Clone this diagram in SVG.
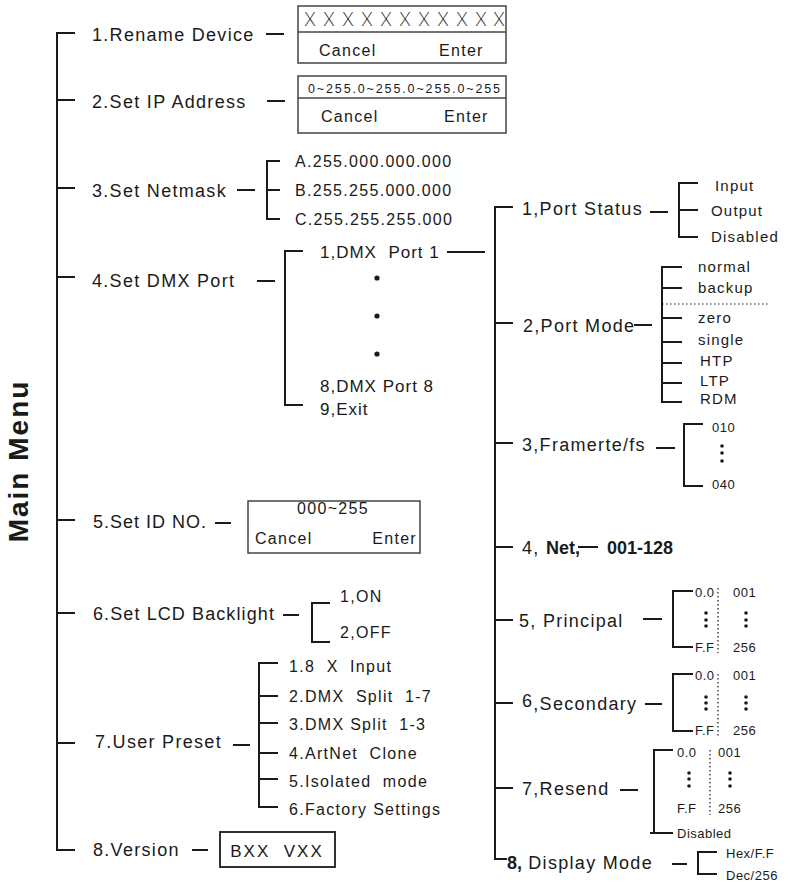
<svg xmlns="http://www.w3.org/2000/svg" width="786" height="885" viewBox="0 0 786 885">
<style>
text{font-family:"Liberation Sans",Arial,sans-serif;fill:#1a1a1a}
.m{font-size:18px;letter-spacing:1.3px}
.s{font-size:18px;letter-spacing:1.3px}
.n{font-size:16px;letter-spacing:1.3px}
.d{font-size:17px;letter-spacing:1px}
.i{font-size:15px;letter-spacing:1.2px}
.t{font-size:13px;letter-spacing:0.5px}
.b{font-weight:bold}
.ln{stroke:#1a1a1a;stroke-width:2;fill:none}
.bx{stroke:#444;stroke-width:1.5;fill:#fff}
.dt{stroke:#1a1a1a;stroke-width:1.2;stroke-dasharray:1.5 2.5;fill:none}
.dot{fill:#1a1a1a}
</style>
<g id="title"><text transform="translate(28,461) rotate(-90)" text-anchor="middle" class="b" style="font-size:28px;letter-spacing:2px">Main Menu</text></g>
<g id="connectors" class="ln">
<path d="M75 33H57V850H75M57 100H75M57 188H75M57 277H75M57 520H75M57 613H75M57 743H75"/>
<path d="M266 34H284M267 101H285M237 190H255M257 281H275M215 523H231M283 615H299M233 745H250M192 850H208"/>
<path d="M280 161H267V219H280M267 190H280"/>
<path d="M303 251H285V405H303"/>
<path d="M447 252H485"/>
<path d="M513 207H495V859H507M495 323H513M495 443H513M495 547H513M495 620H513M495 703H513M495 788H513"/>
<path d="M650 212H668M698 183H679V237H698M679 210H698"/>
<path d="M634 325H652M682 267H662V402H682M662 288H682M662 318H682M662 342H682M662 363H682M662 383H682"/>
<path d="M656 448H675M703 424H684V486H703"/>
<path d="M578 547H598"/>
<path d="M643 619H662M693 591H673V647H693"/>
<path d="M645 704H662M693 674H673V731H693"/>
<path d="M620 790H638M673 750H654V833H673M650 833H654"/>
<path d="M672 864H687M717 852H698V874H717"/>
<path d="M330 603H312V642H330"/>
<path d="M278 663H259V807H278M259 696H278M259 723H278M259 753H278M259 779H278"/>
</g>
<g id="dotted">
<path class="dt" d="M662 304H768"/>
<path class="dt" d="M718 588V653M718 674V737M710 750V815"/>
</g>
<g id="n1"><text x="92" y="41" class="m">1.Rename Device</text>
<rect class="bx" x="298" y="6" width="208" height="57"/><path d="M298 32H506" stroke="#444" stroke-width="1.3"/>
<text x="310" y="26" text-anchor="middle" style="font-family:Inter,'Liberation Sans',sans-serif;font-weight:200;font-size:18px"><tspan x="310">X</tspan><tspan x="329">X</tspan><tspan x="348">X</tspan><tspan x="367">X</tspan><tspan x="386">X</tspan><tspan x="405">X</tspan><tspan x="424">X</tspan><tspan x="443">X</tspan><tspan x="462">X</tspan><tspan x="481">X</tspan><tspan x="499">X</tspan></text>
<text x="319" y="56" class="n">Cancel</text><text x="439" y="56" class="n">Enter</text></g>
<g id="n2"><text x="92" y="108" class="m">2.Set IP Address</text>
<rect class="bx" x="298" y="76" width="208" height="57"/><path d="M298 98H506" stroke="#444" stroke-width="1.3"/>
<text x="308" y="93" style="font-size:12.5px" textLength="192" lengthAdjust="spacing">0~255.0~255.0~255.0~255</text>
<text x="321" y="122" class="n">Cancel</text><text x="444" y="122" class="n">Enter</text></g>
<g id="n3"><text x="92" y="197" class="m">3.Set Netmask</text>
<text x="295" y="167" class="n">A.255.000.000.000</text>
<text x="295" y="196" class="n">B.255.255.000.000</text>
<text x="295" y="225" class="n">C.255.255.255.000</text></g>
<g id="n4"><text x="92" y="287" class="m">4.Set DMX Port</text>
<text x="320" y="258" class="d" xml:space="preserve">1,DMX  Port 1</text>
<circle class="dot" cx="377" cy="278" r="2.6"/><circle class="dot" cx="377" cy="316" r="2.6"/><circle class="dot" cx="377" cy="354" r="2.6"/>
<text x="320" y="392" class="d">8,DMX Port 8</text>
<text x="320" y="415" class="d">9,Exit</text></g>
<g id="p1"><text x="522" y="215" class="s">1,Port Status</text>
<text x="715" y="191" class="i">Input</text><text x="711" y="216" class="i">Output</text><text x="711" y="242" class="i">Disabled</text></g>
<g id="p2"><text x="523" y="332" class="s">2,Port Mode</text>
<text x="698" y="272" class="i">normal</text><text x="698" y="293" class="i">backup</text><text x="698" y="323" class="i">zero</text><text x="698" y="345" class="i">single</text><text x="700" y="366" class="i">HTP</text><text x="700" y="386" class="i">LTP</text><text x="700" y="404" class="i">RDM</text></g>
<g id="p3"><text x="522" y="451" class="s">3,Framerte/fs</text>
<text x="712" y="432" class="t">010</text>
<circle class="dot" cx="722" cy="446" r="1.8"/><circle class="dot" cx="722" cy="453" r="1.8"/><circle class="dot" cx="722" cy="461" r="1.8"/>
<text x="712" y="489" class="t">040</text></g>
<g id="p4"><text x="522" y="554" class="s">4, <tspan class="b" style="letter-spacing:0">Net,</tspan></text>
<text x="607" y="554" class="b" style="font-size:18px">001-128</text></g>
<g id="p5"><text x="519" y="627" class="s">5, Principal</text>
<text x="695" y="597" class="t">0.0</text><text x="733" y="597" class="t">001</text>
<circle class="dot" cx="706" cy="613" r="1.8"/><circle class="dot" cx="706" cy="620" r="1.8"/><circle class="dot" cx="706" cy="626" r="1.8"/>
<circle class="dot" cx="746" cy="613" r="1.8"/><circle class="dot" cx="746" cy="620" r="1.8"/><circle class="dot" cx="746" cy="626" r="1.8"/>
<text x="695" y="652" class="t">F.F</text><text x="733" y="652" class="t">256</text></g>
<g id="p6"><text x="522" y="710" class="s"><tspan dy="-3">6</tspan><tspan dy="3">,Secondary</tspan></text>
<text x="695" y="680" class="t">0.0</text><text x="733" y="680" class="t">001</text>
<circle class="dot" cx="706" cy="697" r="1.8"/><circle class="dot" cx="706" cy="703" r="1.8"/><circle class="dot" cx="706" cy="709" r="1.8"/>
<circle class="dot" cx="746" cy="697" r="1.8"/><circle class="dot" cx="746" cy="703" r="1.8"/><circle class="dot" cx="746" cy="709" r="1.8"/>
<text x="695" y="735" class="t">F.F</text><text x="733" y="735" class="t">256</text></g>
<g id="p7"><text x="522" y="795" class="s">7,Resend</text>
<text x="677" y="757" class="t">0.0</text><text x="718" y="757" class="t">001</text>
<circle class="dot" cx="689" cy="773" r="1.8"/><circle class="dot" cx="689" cy="779" r="1.8"/><circle class="dot" cx="689" cy="786" r="1.8"/>
<circle class="dot" cx="730" cy="773" r="1.8"/><circle class="dot" cx="730" cy="779" r="1.8"/><circle class="dot" cx="730" cy="786" r="1.8"/>
<text x="677" y="813" class="t">F.F</text><text x="718" y="813" class="t">256</text>
<text x="677" y="838" class="t">Disabled</text></g>
<g id="p8"><text x="507" y="869" class="s"><tspan class="b" style="letter-spacing:0">8,</tspan> Display Mode</text>
<text x="726" y="858" class="t">Hex/F.F</text><text x="726" y="880" class="t">Dec/256</text></g>
<g id="n5"><text x="93" y="528" class="m" style="letter-spacing:1px">5.Set ID NO.</text>
<rect class="bx" x="248" y="501" width="172" height="52"/>
<text x="333" y="514" class="n" text-anchor="middle">000~255</text>
<text x="255" y="544" class="n">Cancel</text><text x="417" y="544" class="n" text-anchor="end">Enter</text></g>
<g id="n6"><text x="93" y="620" class="m" style="letter-spacing:1.1px">6.Set LCD Backlight</text>
<text x="340" y="602" class="n">1,ON</text><text x="340" y="638" class="n">2,OFF</text></g>
<g id="n7"><text x="95" y="748" class="m">7.User Preset</text>
<text x="289" y="672" class="n" xml:space="preserve">1.8  X  Input</text>
<text x="289" y="702" class="n" xml:space="preserve">2.DMX  Split  1-7</text>
<text x="289" y="730" class="n" xml:space="preserve">3.DMX Split  1-3</text>
<text x="289" y="759" class="n" xml:space="preserve">4.ArtNet  Clone</text>
<text x="289" y="787" class="n" xml:space="preserve">5.Isolated  mode</text>
<text x="289" y="815" class="n">6.Factory Settings</text></g>
<g id="n8"><text x="93" y="856" class="m">8.Version</text>
<rect x="220" y="832" width="115" height="35" fill="#fff" stroke="#1a1a1a" stroke-width="1.8"/>
<text x="277" y="857" text-anchor="middle" style="font-size:17px;letter-spacing:2px" xml:space="preserve">BXX  VXX</text></g>
</svg>
